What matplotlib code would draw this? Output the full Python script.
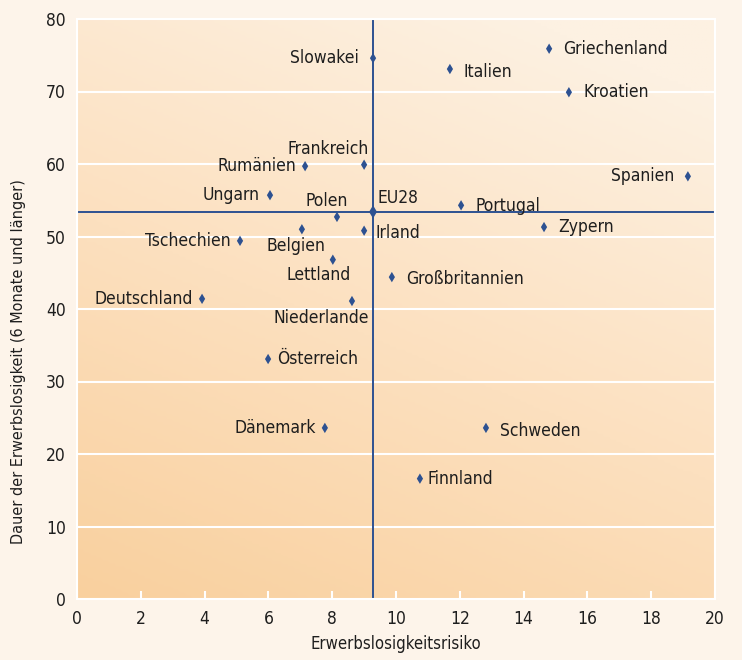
import numpy as np
import matplotlib
matplotlib.use("Agg")
import matplotlib.pyplot as plt
from matplotlib.colors import LinearSegmentedColormap

countries = ["Slowakei", "Griechenland", "Italien", "Kroatien", "Frankreich", "Rumänien",
             "Spanien", "Ungarn", "EU28", "Portugal", "Polen", "Tschechien", "Zypern",
             "Belgien", "Irland", "Lettland", "Großbritannien", "Deutschland", "Niederlande",
             "Österreich", "Dänemark", "Schweden", "Finnland"]
risk = [9.28, 14.8, 11.69, 15.42, 9.0, 7.15, 19.15, 6.05, 9.28, 12.04, 8.15, 5.11, 14.64,
        7.05, 9.0, 8.02, 9.87, 3.92, 8.62, 5.99, 7.77, 12.82, 10.75]
duration = [74.6, 75.9, 73.1, 69.9, 59.9, 59.7, 58.3, 55.7, 53.4, 54.3, 52.7, 49.4, 51.3,
            51.0, 50.8, 46.8, 44.4, 41.4, 41.1, 33.1, 23.6, 23.6, 16.6]
eu_risk = 9.28
eu_duration = 53.4

# label placement (style): offset in pixels, horizontal alignment
placement = {
    "Slowakei": ((-14, 0), "right"),
    "Griechenland": ((14, 0), "left"),
    "Italien": ((14, -3), "left"),
    "Kroatien": ((15, 0), "left"),
    "Frankreich": ((5, 16), "right"),
    "Rumänien": ((-9, 0), "right"),
    "Spanien": ((-14, 0), "right"),
    "Ungarn": ((-10, 0), "right"),
    "EU28": ((4, 14), "left"),
    "Portugal": ((14, -1), "left"),
    "Polen": ((-10, 16), "center"),
    "Tschechien": ((-9, 0), "right"),
    "Zypern": ((14, 0), "left"),
    "Belgien": ((-6, -17), "center"),
    "Irland": ((11, -2), "left"),
    "Lettland": ((-14, -15), "center"),
    "Großbritannien": ((14, -2), "left"),
    "Deutschland": ((-9, 0), "right"),
    "Niederlande": ((-31, -17), "center"),
    "Österreich": ((9, 0), "left"),
    "Dänemark": ((-9, 0), "right"),
    "Schweden": ((14, -3), "left"),
    "Finnland": ((8, 0), "left"),
}

bg = "#fdf4ea"
blue = "#2d5191"
txt = "#1e1e1e"
fam = ["DejaVu Sans"]

fig = plt.figure(figsize=(7.42, 6.60), dpi=100, facecolor=bg)
ax = fig.add_axes([77/742, 61/660, (715-77)/742, (599-19)/660])
ax.set_xlim(0, 20)
ax.set_ylim(0, 80)

# gradient background
cmap = LinearSegmentedColormap.from_list("g", ["#f9d09e", "#fce0bf", "#fdf1e2"])
nx, ny = 200, 200
gx, gy = np.meshgrid(np.linspace(0, 1, nx), np.linspace(0, 1, ny))
grad = np.clip(gx * 0.35 + gy * 0.75, 0, 1)
ax.imshow(grad, extent=[0, 20, 0, 80], origin="lower", cmap=cmap, aspect="auto", zorder=0)

for yv in range(10, 90, 10):
    ax.axhline(yv, color="white", lw=1.5, zorder=1)

for s in ax.spines.values():
    s.set_color("white")
    s.set_linewidth(1.5)

ax.axvline(eu_risk, color=blue, lw=1.4, zorder=2)
ax.axhline(eu_duration, color=blue, lw=1.4, zorder=2)

sizes = [45 if c == "EU28" else 28 for c in countries]
ax.scatter(risk, duration, marker="d", s=sizes, color=blue, zorder=3, linewidths=0)

for c, x, y in zip(countries, risk, duration):
    (dx, dy), ha = placement[c]
    ax.annotate(c, (x, y), xytext=(dx, dy), textcoords="offset pixels", ha=ha, va="center",
                fontsize=12.5, family=fam, fontstretch="condensed", color=txt, zorder=4)

ax.set_xticks(range(0, 21, 2))
ax.set_yticks(range(0, 81, 10))
ax.tick_params(axis="x", direction="in", length=6, width=1.5, color="white", pad=8,
               labelsize=12.5, labelcolor=txt)
ax.tick_params(axis="y", length=0, pad=8, labelsize=12.5, labelcolor=txt)
for lab in ax.get_xticklabels() + ax.get_yticklabels():
    lab.set_family(fam)
    lab.set_fontstretch("condensed")

ax.set_xlabel("Erwerbslosigkeitsrisiko", family=fam, fontstretch="condensed", fontsize=12,
              color=txt, labelpad=5)
ax.set_ylabel("Dauer der Erwerbslosigkeit (6 Monate und länger)", family=fam,
              fontstretch="condensed", fontsize=11.6, color=txt)
ax.yaxis.set_label_coords(-0.08, 0.41)

fig.savefig("out.png", dpi=100, facecolor=bg)
